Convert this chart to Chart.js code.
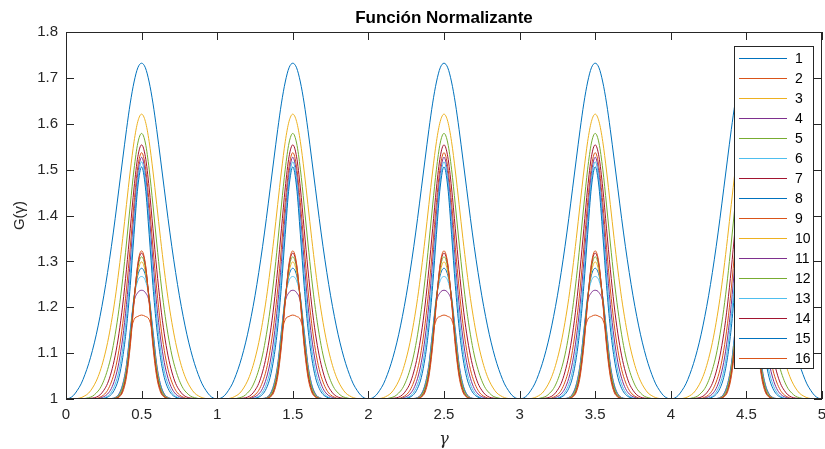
<!DOCTYPE html>
<html>
<head>
<meta charset="utf-8">
<script src="https://cdn.jsdelivr.net/npm/chart.js@4.4.0/dist/chart.umd.min.js"></script>
<style>
  html, body { margin: 0; padding: 0; background: #fff; }
</style>
</head>
<body>
<canvas id="normChart" width="825" height="449"></canvas>
<script>
// gamma positions of one half period (0 -> 0.5), the curves repeat mirrored every period
const gammaHalf = [0, 0.025, 0.05, 0.075, 0.1, 0.125, 0.15, 0.175, 0.2, 0.225, 0.25,
                   0.275, 0.3, 0.325, 0.35, 0.375, 0.4, 0.425, 0.45, 0.475, 0.5];
const periods = 5;

// G(gamma) for gamma = 0 .. 0.5, one array per curve
const g1  = [1.000, 1.002, 1.008, 1.019, 1.033, 1.053, 1.077, 1.106, 1.140, 1.180, 1.225, 1.276, 1.332, 1.393, 1.458, 1.523, 1.587, 1.645, 1.691, 1.722, 1.732];
const g2  = [1.000, 1.000, 1.000, 1.000, 1.000, 1.000, 1.000, 1.000, 1.000, 1.000, 1.000, 1.000, 1.000, 1.003, 1.010, 1.028, 1.068, 1.140, 1.173, 1.180, 1.183];
const g3  = [1.000, 1.000, 1.000, 1.001, 1.003, 1.007, 1.013, 1.024, 1.039, 1.060, 1.088, 1.123, 1.167, 1.219, 1.281, 1.350, 1.424, 1.497, 1.561, 1.605, 1.621];
const g4  = [1.000, 1.000, 1.000, 1.000, 1.000, 1.000, 1.000, 1.000, 1.000, 1.000, 1.000, 1.000, 1.001, 1.003, 1.011, 1.032, 1.075, 1.148, 1.212, 1.232, 1.237];
const g5  = [1.000, 1.000, 1.000, 1.000, 1.000, 1.001, 1.003, 1.006, 1.013, 1.023, 1.040, 1.064, 1.096, 1.140, 1.195, 1.262, 1.340, 1.423, 1.501, 1.558, 1.579];
const g6  = [1.000, 1.000, 1.000, 1.000, 1.000, 1.000, 1.000, 1.000, 1.000, 1.000, 1.000, 1.000, 1.001, 1.003, 1.010, 1.031, 1.073, 1.150, 1.222, 1.258, 1.267];
const g7  = [1.000, 1.000, 1.000, 1.000, 1.000, 1.000, 1.001, 1.002, 1.004, 1.009, 1.019, 1.034, 1.059, 1.094, 1.142, 1.205, 1.283, 1.371, 1.460, 1.528, 1.554];
const g8  = [1.000, 1.000, 1.000, 1.000, 1.000, 1.000, 1.000, 1.000, 1.000, 1.000, 1.000, 1.000, 1.000, 1.002, 1.009, 1.028, 1.068, 1.140, 1.222, 1.270, 1.285];
const g9  = [1.000, 1.000, 1.000, 1.000, 1.000, 1.000, 1.000, 1.000, 1.001, 1.004, 1.009, 1.019, 1.037, 1.064, 1.106, 1.164, 1.240, 1.331, 1.428, 1.506, 1.537];
const g10 = [1.000, 1.000, 1.000, 1.000, 1.000, 1.000, 1.000, 1.000, 1.000, 1.000, 1.000, 1.000, 1.000, 1.002, 1.008, 1.025, 1.065, 1.133, 1.218, 1.277, 1.299];
const g11 = [1.000, 1.000, 1.000, 1.000, 1.000, 1.000, 1.000, 1.000, 1.000, 1.002, 1.005, 1.011, 1.023, 1.045, 1.080, 1.133, 1.206, 1.300, 1.403, 1.491, 1.527];
const g12 = [1.000, 1.000, 1.000, 1.000, 1.000, 1.000, 1.000, 1.000, 1.000, 1.000, 1.000, 1.000, 1.000, 1.001, 1.006, 1.022, 1.060, 1.128, 1.218, 1.286, 1.310];
const g13 = [1.000, 1.000, 1.000, 1.000, 1.000, 1.000, 1.000, 1.000, 1.000, 1.001, 1.002, 1.006, 1.015, 1.032, 1.061, 1.109, 1.179, 1.272, 1.381, 1.477, 1.517];
const g14 = [1.000, 1.000, 1.000, 1.000, 1.000, 1.000, 1.000, 1.000, 1.000, 1.000, 1.000, 1.000, 1.000, 1.001, 1.005, 1.018, 1.054, 1.122, 1.215, 1.292, 1.318];
const g15 = [1.000, 1.000, 1.000, 1.000, 1.000, 1.000, 1.000, 1.000, 1.000, 1.000, 1.001, 1.004, 1.010, 1.023, 1.047, 1.090, 1.155, 1.247, 1.359, 1.462, 1.506];
const g16 = [1.000, 1.000, 1.000, 1.000, 1.000, 1.000, 1.000, 1.000, 1.000, 1.000, 1.000, 1.000, 1.000, 1.001, 1.004, 1.015, 1.048, 1.115, 1.210, 1.295, 1.323];

const curves = [g1, g2, g3, g4, g5, g6, g7, g8, g9, g10, g11, g12, g13, g14, g15, g16];
const seriesNames = ['1', '2', '3', '4', '5', '6', '7', '8', '9', '10', '11', '12', '13', '14', '15', '16'];
const lineColors = ['#0072BD', '#D95319', '#EDB120', '#7E2F8E', '#77AC30', '#4DBEEE', '#A2142F'];

const xTickLabels = ['0', '0.5', '1', '1.5', '2', '2.5', '3', '3.5', '4', '4.5', '5'];
const yTickLabels = ['1', '1.1', '1.2', '1.3', '1.4', '1.5', '1.6', '1.7', '1.8'];
const chartTitle = 'Función Normalizante';

const axisColor = '#262626';
const fontFamily = "'Liberation Sans', Arial, Helvetica, sans-serif";

// lay the half period out over the whole gamma range
function buildSeries(half) {
    const pts = [];
    for (let p = 0; p < periods; p++) {
        const start = p === 0 ? 0 : 1;
        for (let i = start; i < half.length; i++) {
            pts.push({ x: p + gammaHalf[i], y: half[i] });
        }
        for (let i = half.length - 2; i >= 0; i--) {
            pts.push({ x: p + 1 - gammaHalf[i], y: half[i] });
        }
    }
    return pts;
}

const datasets = curves.map((half, i) => ({
    label: seriesNames[i],
    data: buildSeries(half),
    borderColor: lineColors[i % lineColors.length],
    backgroundColor: lineColors[i % lineColors.length],
    borderWidth: 1,
    pointRadius: 0,
    fill: false,
    cubicInterpolationMode: 'monotone',
    order: curves.length - i   // later curves on top, like the original
}));

// title, box, inward ticks on all four sides, and the legend inside the axes
const matlabAxes = {
    id: 'matlabAxes',
    afterDraw(chart) {
        const { ctx, chartArea: a, scales } = chart;
        const tick = 8;
        ctx.save();

        ctx.fillStyle = '#000';
        ctx.font = 'bold 17px ' + fontFamily;
        ctx.textAlign = 'center';
        ctx.textBaseline = 'middle';
        ctx.fillText(chartTitle, (a.left + a.right) / 2, 18);

        ctx.strokeStyle = axisColor;
        ctx.lineWidth = 1;
        ctx.beginPath();
        scales.x.ticks.forEach(t => {
            const px = Math.round(scales.x.getPixelForValue(t.value)) + 0.5;
            ctx.moveTo(px, a.bottom); ctx.lineTo(px, a.bottom - tick);
            ctx.moveTo(px, a.top); ctx.lineTo(px, a.top + tick);
        });
        scales.y.ticks.forEach(t => {
            const py = Math.round(scales.y.getPixelForValue(t.value)) + 0.5;
            ctx.moveTo(a.left, py); ctx.lineTo(a.left + tick, py);
            ctx.moveTo(a.right, py); ctx.lineTo(a.right - tick, py);
        });
        ctx.stroke();
        ctx.strokeRect(Math.round(a.left) + 0.5, Math.round(a.top) + 0.5,
                       Math.round(a.right - a.left) - 1, Math.round(a.bottom - a.top) - 1);

        // legend
        const lx = 734, ly = 46, lw = 79, lh = 322, step = 20;
        ctx.fillStyle = '#fff';
        ctx.fillRect(lx, ly, lw, lh);
        ctx.strokeRect(lx + 0.5, ly + 0.5, lw, lh);
        ctx.font = '14px ' + fontFamily;
        ctx.textBaseline = 'middle';
        ctx.textAlign = 'left';
        chart.data.datasets.forEach((ds, i) => {
            const y = ly + 12.5 + i * step;
            ctx.strokeStyle = ds.borderColor;
            ctx.beginPath();
            ctx.moveTo(lx + 5, y); ctx.lineTo(lx + 53, y);
            ctx.stroke();
            ctx.fillStyle = '#000';
            ctx.fillText(ds.label, lx + 61, y + 1);
        });
        ctx.restore();
    }
};

new Chart(document.getElementById('normChart'), {
    type: 'line',
    data: { datasets: datasets },
    options: {
        responsive: false,
        animation: false,
        devicePixelRatio: 1,
        layout: { padding: { left: 0, right: 3, top: 32, bottom: 0 } },
        plugins: {
            legend: { display: false },
            tooltip: { enabled: false },
            title: { display: false }
        },
        scales: {
            x: {
                type: 'linear',
                min: 0,
                max: 5,
                afterFit: s => { s.height = 50; s.paddingLeft = 0; s.paddingRight = 0; },
                grid: { display: false, drawTicks: false },
                border: { display: false },
                ticks: {
                    stepSize: 0.5,
                    padding: 7,
                    color: axisColor,
                    maxRotation: 0,
                    font: { family: fontFamily, size: 15 },
                    callback: (v, i) => xTickLabels[i]
                },
                title: {
                    display: true,
                    text: 'γ',
                    color: axisColor,
                    padding: { top: 4, bottom: 0 },
                    font: { family: "'DejaVu Serif', 'Liberation Serif', serif", size: 16, style: 'italic' }
                }
            },
            y: {
                type: 'linear',
                min: 1,
                max: 1.8,
                afterFit: s => { s.width = 66; s.paddingTop = 0; s.paddingBottom = 0; },
                grid: { display: false, drawTicks: false },
                border: { display: false },
                ticks: {
                    stepSize: 0.1,
                    padding: 8,
                    color: axisColor,
                    font: { family: fontFamily, size: 15 },
                    callback: (v, i) => yTickLabels[i]
                },
                title: {
                    display: true,
                    text: 'G(γ)',
                    color: axisColor,
                    padding: { top: 11, bottom: 0 },
                    font: { family: fontFamily, size: 15 }
                }
            }
        }
    },
    plugins: [matlabAxes]
});
</script>
</body>
</html>
